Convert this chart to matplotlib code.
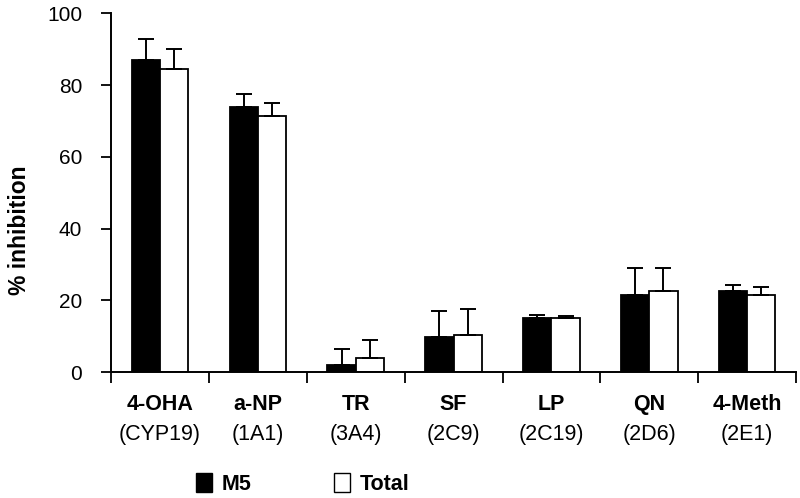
import matplotlib
matplotlib.use("Agg")
import matplotlib.pyplot as plt
import numpy as np
from matplotlib.patches import Patch

plt.rcParams["font.family"] = ["Liberation Sans", "DejaVu Sans"]

substrates = ["4-OHA", "a-NP", "TR", "SF", "LP", "QN", "4-Meth"]
enzymes = ["(CYP19)", "(1A1)", "(3A4)", "(2C9)", "(2C19)", "(2D6)", "(2E1)"]
m5 = [87.0, 74.0, 2.0, 9.7, 15.2, 21.5, 22.6]
m5_err = [6.0, 3.5, 4.5, 7.4, 0.6, 7.6, 1.8]
total = [84.5, 71.5, 4.0, 10.3, 15.1, 22.6, 21.4]
total_err = [5.5, 3.6, 5.0, 7.4, 0.6, 6.5, 2.4]

fig = plt.figure(figsize=(8.0, 4.98), dpi=100)
ax = fig.add_axes([0.139, 0.253, 0.856, 0.720])

x = np.arange(len(substrates))
w = 0.29
ekw = dict(ecolor="black", elinewidth=1.4, capthick=1.4)
ax.bar(x - w / 2, m5, w, color="black", edgecolor="black", linewidth=1.3,
       yerr=[np.zeros(len(m5)), m5_err], capsize=6, error_kw=ekw)
ax.bar(x + w / 2, total, w, color="white", edgecolor="black", linewidth=1.3,
       yerr=[np.zeros(len(total)), total_err], capsize=6, error_kw=ekw)

ax.set_xlim(-0.5, len(substrates) - 0.5)
ax.set_ylim(0, 100)
ax.set_yticks(range(0, 101, 20))
ax.tick_params(axis="y", labelsize=15, length=7, width=1.3, direction="out", pad=14)
ax.set_xticks(np.arange(len(substrates) + 1) - 0.5)
ax.set_xticklabels([])
ax.tick_params(axis="x", length=8, width=1.3, direction="out")
for side in ("top", "right"):
    ax.spines[side].set_visible(False)
for side in ("left", "bottom"):
    ax.spines[side].set_linewidth(1.4)

fig.text(20 / 800, 1 - 230 / 498, "% inhibition", rotation=90, ha="center", va="center",
         fontsize=16.5, fontweight="bold")

trans = ax.get_xaxis_transform()
for xi, s, e in zip(x, substrates, enzymes):
    ax.text(xi, -0.09, s, transform=trans, ha="center", va="center",
            fontsize=15.5, fontweight="bold")
    ax.text(xi, -0.174, e, transform=trans, ha="center", va="center",
            fontsize=15.5)

handles = [Patch(facecolor="black", edgecolor="black", label="M5"),
           Patch(facecolor="white", edgecolor="black", label="Total")]
fig.legend(handles=handles, loc="center left", bbox_to_anchor=(0.245, 1 - 484 / 498),
           ncol=2, frameon=False, prop=dict(size=15.5, weight="bold"),
           handlelength=0.75, handleheight=1.0, handletextpad=0.45,
           columnspacing=3.8, borderaxespad=0, borderpad=0)

fig.savefig("out.png", dpi=100)
